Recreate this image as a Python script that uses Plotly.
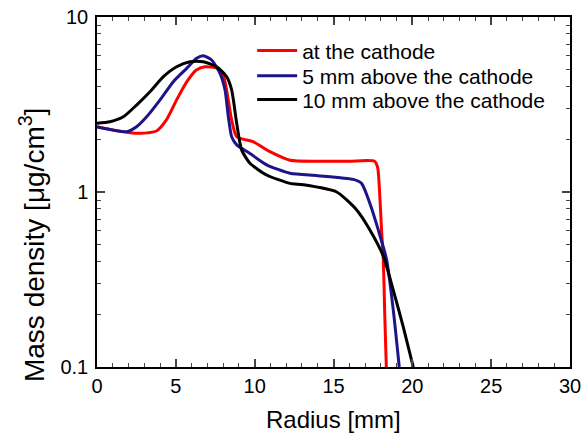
import plotly.graph_objects as go

# Data
r_cathode = [0, 0.8, 2.1, 3.0, 3.8, 4.4, 5.05, 5.7, 6.3, 6.85, 7.6, 8.0, 8.22, 8.54, 8.86, 9.9, 10.97, 12.24, 14.0, 16.0, 17.6, 17.8, 17.95, 18.05, 18.16, 18.25, 18.35]
v_cathode = [2.36, 2.28, 2.18, 2.17, 2.24, 2.58, 3.36, 4.27, 4.98, 5.2, 5.1, 4.66, 3.83, 2.58, 2.07, 1.94, 1.70, 1.52, 1.5, 1.5, 1.5, 1.38, 0.9, 0.6, 0.41, 0.2, 0.1]

r_5mm = [0, 0.9, 1.88, 2.51, 3.15, 4.0, 4.84, 5.69, 6.32, 6.74, 7.27, 7.8, 8.12, 8.33, 8.54, 8.86, 9.7, 10.76, 12.24, 14.0, 16.25, 16.78, 17.31, 17.84, 18.37, 18.79, 19.17]
v_5mm = [2.35, 2.27, 2.21, 2.36, 2.69, 3.36, 4.27, 5.09, 5.81, 6.01, 5.68, 4.77, 3.83, 2.69, 2.07, 1.86, 1.66, 1.43, 1.28, 1.24, 1.18, 1.12, 0.86, 0.607, 0.41, 0.212, 0.1]

r_10mm = [0, 0.82, 1.67, 2.51, 3.36, 4.21, 5.05, 5.9, 6.74, 7.59, 8.22, 8.54, 8.86, 9.17, 9.7, 10.76, 12.24, 13.08, 15.2, 16.47, 17.31, 18.16, 18.79, 19.42, 20.06]
v_10mm = [2.47, 2.52, 2.69, 3.14, 3.74, 4.56, 5.2, 5.55, 5.55, 5.2, 4.56, 3.83, 2.47, 1.74, 1.46, 1.25, 1.12, 1.1, 1.0, 0.79, 0.607, 0.43, 0.275, 0.17, 0.1]

series_names = ["at the cathode", "5 mm above the cathode", "10 mm above the cathode"]
series_colors = ["#ff0000", "#1c1488", "#000000"]

x_ticks = [0, 5, 10, 15, 20, 25, 30]
y_ticks = [0.1, 1, 10]
y_tick_text = ["0.1", "1", "10"]
y_minor = [v * d for d in (0.1, 1) for v in range(2, 10)]

x_title = "Radius [mm]"
y_title = "Mass density [μg/cm<sup>3</sup>]"

font_family = "Liberation Sans, Arial, sans-serif"

legend_ids = ["legend", "legend2", "legend3"]
legend_y = [0.903, 0.831, 0.763]

fig = go.Figure()
for xs, ys, name, col, lg in zip([r_cathode, r_5mm, r_10mm], [v_cathode, v_5mm, v_10mm],
                                 series_names, series_colors, legend_ids):
    fig.add_trace(go.Scatter(x=xs, y=ys, mode="lines", name=name, legend=lg,
                             line=dict(color=col, width=3, shape="spline", smoothing=0.6)))

legend_common = dict(xanchor="left", yanchor="middle", x=0.328,
                     font=dict(size=21, family=font_family, color="black"),
                     bgcolor="rgba(0,0,0,0)", itemwidth=40, borderwidth=0)

fig.update_layout(
    width=582, height=440,
    margin=dict(l=97, r=12, t=17, b=73),
    paper_bgcolor="white", plot_bgcolor="white",
    font=dict(family=font_family, color="black", size=20),
    legend=dict(y=legend_y[0], **legend_common),
    legend2=dict(y=legend_y[1], **legend_common),
    legend3=dict(y=legend_y[2], **legend_common),
    showlegend=True,
)
fig.update_xaxes(
    range=[0, 30], tickvals=x_ticks, ticks="inside", ticklen=8, tickwidth=1.5,
    showline=True, linecolor="black", linewidth=1.5, mirror="ticks", showgrid=False, zeroline=False,
    minor=dict(dtick=1, tick0=0, ticks="inside", ticklen=4, tickwidth=1.2, showgrid=False),
    tickfont=dict(size=20), automargin=False,
)
fig.update_yaxes(
    type="log", range=[-1, 1], tickvals=y_ticks, ticktext=y_tick_text,
    ticks="inside", ticklen=8, tickwidth=1.5,
    showline=True, linecolor="black", linewidth=1.5, mirror="ticks", showgrid=False, zeroline=False,
    minor=dict(tickvals=y_minor, ticks="inside", ticklen=4, tickwidth=1.2, showgrid=False),
    tickfont=dict(size=20), automargin=False, ticklabelstandoff=3,
)
fig.add_annotation(text=x_title, xref="paper", yref="paper", x=0.5, y=-0.149,
                   xanchor="center", yanchor="middle", showarrow=False,
                   font=dict(size=24, family=font_family, color="black"))
fig.add_annotation(text=y_title, xref="paper", yref="paper", x=-0.137, y=0.349,
                   xanchor="center", yanchor="middle", showarrow=False, textangle=-90,
                   font=dict(size=28, family=font_family, color="black"))

fig.write_html("out.html", config={"displayModeBar": False},
               post_script="document.body.style.margin='0px';")
